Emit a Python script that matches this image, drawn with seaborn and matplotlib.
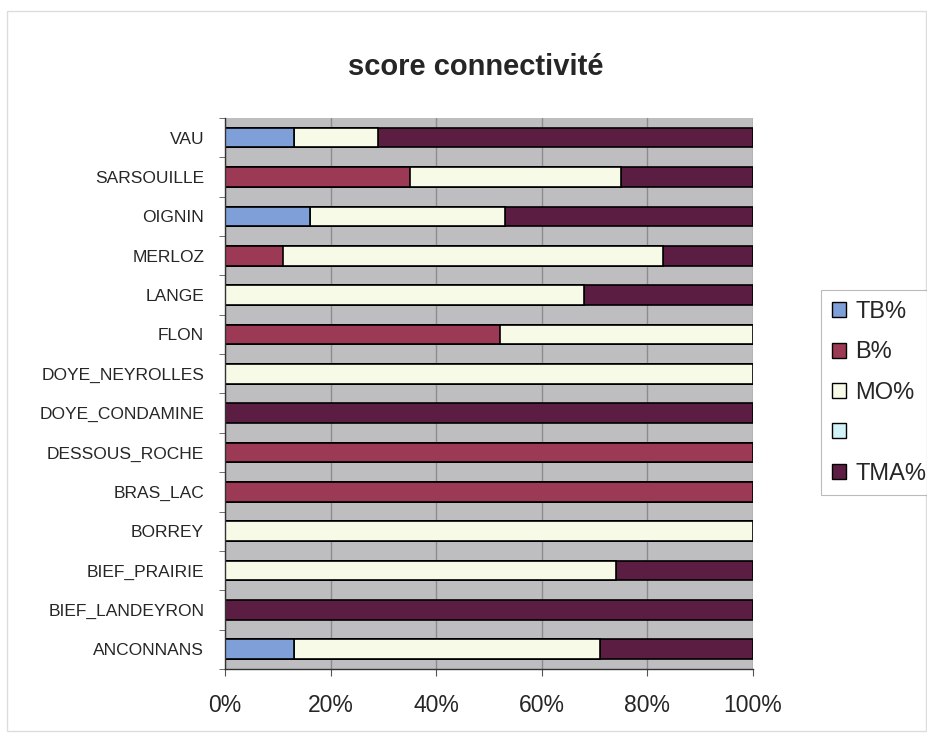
import numpy as np
import pandas as pd
import seaborn as sns
import matplotlib
matplotlib.use('Agg')
import matplotlib.pyplot as plt
from matplotlib.patches import Patch, Rectangle

# rivers, top to bottom as in the chart
rivers = ['VAU', 'SARSOUILLE', 'OIGNIN', 'MERLOZ', 'LANGE', 'FLON',
          'DOYE_NEYROLLES', 'DOYE_CONDAMINE', 'DESSOUS_ROCHE', 'BRAS_LAC',
          'BORREY', 'BIEF_PRAIRIE', 'BIEF_LANDEYRON', 'ANCONNANS']
tb = [13, 0, 16, 0, 0, 0, 0, 0, 0, 0, 0, 0, 0, 13]
b = [0, 35, 0, 11, 0, 52, 0, 0, 100, 100, 0, 0, 0, 0]
mo = [16, 40, 37, 72, 68, 48, 100, 0, 0, 0, 100, 74, 0, 58]
m = [0, 0, 0, 0, 0, 0, 0, 0, 0, 0, 0, 0, 0, 0]
tma = [71, 25, 47, 17, 32, 0, 0, 100, 0, 0, 0, 26, 100, 29]
labels = ['TB%', 'B%', 'MO%', '', 'TMA%']
colors = ['#7E9FD8', '#9C3A56', '#F6FAE6', '#CFF3F7', '#5C1D42']

df = pd.DataFrame({'river': rivers, 'TB%': tb, 'B%': b, 'MO%': mo,
                   '': m, 'TMA%': tma})
cum = df[labels].cumsum(axis=1)

sns.set_style('white')
plt.rcParams['font.family'] = ['Liberation Sans', 'DejaVu Sans']

fig = plt.figure(figsize=(9.28, 7.35), dpi=100)
ax = fig.add_axes([0.2425, 0.0898, 0.569, 0.7497])
ax.set_facecolor('#BEBEC1')

# stacked bars: draw cumulative totals from the widest to the narrowest
for lab, col in reversed(list(zip(labels, colors))):
    sns.barplot(x=cum[lab], y=df['river'], color=col, saturation=1,
                orient='h', width=0.5, edgecolor='black', linewidth=1.2,
                ax=ax)

ax.set_xlim(0, 100)
ax.set_ylim(len(rivers) - 0.5, -0.5)
ax.set_xticks(np.arange(0, 101, 20))
ax.set_xticklabels([f'{v}%' for v in range(0, 101, 20)], fontsize=16.5)
ax.set_yticks(np.arange(len(rivers)))
ax.set_yticklabels(rivers, fontsize=12.5)
ax.set_yticks(np.arange(len(rivers) + 1) - 0.5, minor=True)
ax.tick_params(axis='y', which='major', length=0, pad=15)
ax.tick_params(axis='y', which='minor', length=4, direction='out',
               color='#555555', left=True)
ax.tick_params(axis='x', length=5, direction='out', color='#555555',
               bottom=True, pad=13)
ax.set_xlabel('')
ax.set_ylabel('')
ax.xaxis.grid(True, color='#8C8C90', linewidth=1)
ax.set_axisbelow(True)
for side in ['top', 'right']:
    ax.spines[side].set_visible(False)
for side in ['left', 'bottom']:
    ax.spines[side].set_color('#333333')
    ax.spines[side].set_linewidth(1)

fig.suptitle('score connectivité', fontsize=21, fontweight='bold',
             x=0.513, y=0.928)

handles = [Patch(facecolor=c, edgecolor='black', linewidth=1)
           for c in colors]
leg = fig.legend(handles, labels, loc='upper left',
                 bbox_to_anchor=(0.885, 0.605), borderaxespad=0,
                 fontsize=17, handlelength=0.6, handleheight=0.6,
                 handletextpad=0.4, labelspacing=0.78, borderpad=0.45,
                 fancybox=False, frameon=True)
leg.get_frame().set_edgecolor('#AAAAAA')
leg.get_frame().set_linewidth(0.8)

# faint chart-area border
fig.patches.append(Rectangle((0.008, 0.005), 0.99, 0.98,
                             transform=fig.transFigure, fill=False,
                             edgecolor='#DDDDDD', linewidth=1))

fig.savefig('out.png', dpi=100)
